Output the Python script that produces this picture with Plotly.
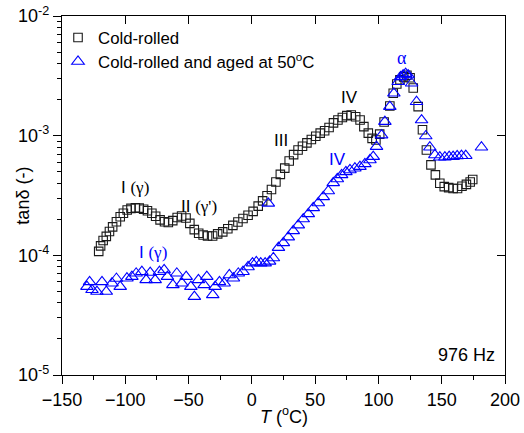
import plotly.graph_objects as go

# Cold-rolled sample: internal friction vs temperature
cr_T = [-121, -119.5, -117.5, -115, -112.5, -110, -107, -104, -101.5, -98.5,
        -95.5, -92, -89, -85.5, -82.5, -79, -76, -72.5, -69, -66,
        -62.5, -59, -55.5, -52, -49, -45.5, -42, -38.5, -35, -31,
        -27, -23, -19, -15, -11, -7, -3, 1, 5, 8.5,
        12, 15.5, 19, 22.5, 26, 29.5, 33, 36.5, 40, 43.5,
        47, 50.5, 54, 57.5, 61, 64.5, 68, 71.5, 75, 78.5,
        82, 85.5, 88.5, 92, 95, 98, 101, 104.5, 109, 111.7,
        114.5, 117, 120, 122.5, 125, 127.5, 131.4, 134.8, 137.9, 141.5,
        145, 148.5, 152, 155.5, 159, 162.5, 166, 169.5, 172.5, 174.5]
cr_tan = [1.08e-4, 1.2e-4, 1.33e-4, 1.44e-4, 1.58e-4, 1.73e-4, 1.91e-4, 2.1e-4, 2.25e-4, 2.39e-4,
          2.47e-4, 2.5e-4, 2.48e-4, 2.43e-4, 2.36e-4, 2.25e-4, 2.12e-4, 1.98e-4, 1.91e-4, 1.88e-4,
          1.95e-4, 2.07e-4, 2.13e-4, 2.05e-4, 1.85e-4, 1.64e-4, 1.53e-4, 1.48e-4, 1.45e-4, 1.45e-4,
          1.51e-4, 1.57e-4, 1.67e-4, 1.78e-4, 1.9e-4, 2.03e-4, 2.16e-4, 2.33e-4, 2.58e-4, 2.85e-4,
          3.15e-4, 3.55e-4, 4.1e-4, 4.75e-4, 5.35e-4, 6.15e-4, 6.95e-4, 7.6e-4, 8.15e-4, 8.7e-4,
          9.3e-4, 9.9e-4, 1.05e-3, 1.1e-3, 1.17e-3, 1.28e-3, 1.35e-3, 1.42e-3, 1.47e-3, 1.49e-3,
          1.44e-3, 1.35e-3, 1.19e-3, 1.05e-3, 9.5e-4, 9.2e-4, 1.03e-3, 1.3e-3, 1.77e-3, 2.26e-3,
          2.7e-3, 2.93e-3, 3.1e-3, 3.2e-3, 3.05e-3, 2.5e-3, 1.75e-3, 1.12e-3, 7.6e-4, 5.7e-4,
          4.7e-4, 4.0e-4, 3.75e-4, 3.68e-4, 3.62e-4, 3.62e-4, 3.78e-4, 3.92e-4, 4.1e-4, 4.3e-4]

# Cold-rolled and aged at 50 °C
ag_T = [-130.3, -128.2, -126.3, -122.4, -118.4, -115, -110.5, -107, -104, -98.7,
        -94.8, -91.4, -86.9, -83.5, -80.3, -76.4, -73, -69.3, -66.7, -62.4,
        -59.3, -55.3, -51.9, -48.2, -45.4, -42.2, -37.7, -35.6, -30.9, -29,
        -25.6, -21.9, -17.8, -14.6, -10.7, -7, -3, 0.5, 3.5, 7,
        10.5, 13, 14, 17, 21, 24.9, 28.8, 32.7, 36.7, 40.6,
        44.6, 48.5, 52.5, 56.4, 60.4, 64.3, 67.5, 70.9, 74.3, 77.5,
        81.4, 85.4, 89.3, 93.3, 95.9, 98.5, 102.5, 105.1, 109, 112.2,
        115.6, 117.5, 119.5, 121.5, 123.5, 126.2, 130.1, 134.1, 137.4, 140.6,
        144.6, 148.5, 152.5, 155.9, 159, 162.2, 165.6, 169, 181.4]
ag_tan = [5.48e-5, 6.0e-5, 5.15e-5, 4.98e-5, 6.0e-5, 4.98e-5, 5.85e-5, 6.4e-5, 5.48e-5, 6.44e-5,
          6.64e-5, 7.08e-5, 7.3e-5, 6.24e-5, 7.18e-5, 6.24e-5, 7.3e-5, 7.55e-5, 6.64e-5, 5.66e-5,
          7.08e-5, 5.85e-5, 6.64e-5, 5.48e-5, 4.52e-5, 6.24e-5, 5.66e-5, 6.64e-5, 4.67e-5, 5.48e-5,
          6.0e-5, 5.85e-5, 6.85e-5, 6.44e-5, 7.08e-5, 7.3e-5, 8.0e-5, 8.6e-5, 8.8e-5, 8.6e-5,
          8.6e-5, 2.72e-4, 8.9e-5, 9.5e-5, 1.16e-4, 1.27e-4, 1.42e-4, 1.6e-4, 1.79e-4, 2.01e-4,
          2.22e-4, 2.49e-4, 2.74e-4, 3.08e-4, 3.45e-4, 4.03e-4, 4.35e-4, 4.7e-4, 4.98e-4, 5.17e-4,
          5.34e-4, 5.51e-4, 5.81e-4, 6.27e-4, 6.68e-4, 8.1e-4, 1.01e-3, 1.31e-3, 1.75e-3, 2.26e-3,
          2.82e-3, 3.1e-3, 3.21e-3, 3.3e-3, 3.21e-3, 2.74e-3, 1.92e-3, 1.35e-3, 9.93e-4, 8.0e-4,
          6.9e-4, 6.6e-4, 6.6e-4, 6.68e-4, 6.68e-4, 6.76e-4, 6.8e-4, 6.8e-4, 8.0e-4]

x_ticks = [-150, -100, -50, 0, 50, 100, 150, 200]
x_minor = [-125, -75, -25, 25, 75, 125, 175]
y_ticks = [1e-5, 1e-4, 1e-3, 1e-2]
y_ticktext = ["10<sup>-5</sup>", "10<sup>-4</sup>", "10<sup>-3</sup>", "10<sup>-2</sup>"]
y_minor = [m * 10.0 ** e for e in (-5, -4, -3) for m in range(2, 10)]

SANS = "Arial, Liberation Sans, sans-serif"
SERIF = "Times New Roman, Liberation Serif, serif"
BLUE = "#0000ff"
BLACK = "#1a1a1a"

fig = go.Figure()
fig.add_trace(go.Scatter(
    x=cr_T, y=cr_tan, mode="markers", name="Cold-rolled", showlegend=True,
    marker=dict(symbol="square-open", size=8.5, color=BLACK, line=dict(width=1.1)),
    legend="legend"))
fig.add_trace(go.Scatter(
    x=ag_T, y=ag_tan, mode="markers", name="Cold-rolled and aged at 50<sup>o</sup>C",
    showlegend=True,
    marker=dict(symbol="triangle-up-open", size=11, color=BLUE, line=dict(width=1.1)),
    legend="legend2"))

axis_line = dict(showline=True, linecolor="black", linewidth=1.3, showgrid=False,
                 zeroline=False, automargin=False)

fig.update_layout(
    width=524, height=433, autosize=False, showlegend=True,
    margin=dict(l=62, r=19, t=16, b=58, autoexpand=False),
    plot_bgcolor="white", paper_bgcolor="white",
    font=dict(family=SANS, size=18, color="black"),
    xaxis=dict(
        range=[-150, 200], tickmode="array", tickvals=x_ticks,
        ticks="outside", ticklen=8, tickwidth=1.3, tickcolor="black",
        minor=dict(tickmode="array", tickvals=x_minor, ticks="outside", ticklen=4,
                   tickwidth=1.3, tickcolor="black"),
        mirror=True, tickfont=dict(size=18), title=None,
        **axis_line),
    xaxis2=dict(
        range=[-150, 200], overlaying="x", side="top", anchor="y",
        tickmode="array", tickvals=x_ticks[1:-1], ticks="inside", ticklen=8,
        tickwidth=1.3, tickcolor="black", showticklabels=False,
        showline=False, showgrid=False, zeroline=False, automargin=False),
    yaxis=dict(
        type="log", range=[-5, -2], tickmode="array", tickvals=y_ticks,
        ticktext=y_ticktext, ticks="outside", ticklen=8, tickwidth=1.3,
        tickcolor="black",
        minor=dict(tickmode="array", tickvals=y_minor, ticks="outside", ticklen=4,
                   tickwidth=1.3, tickcolor="black"),
        mirror=True, tickfont=dict(size=18), title=None,
        **axis_line),
    yaxis2=dict(
        type="log", range=[-5, -2], overlaying="y", side="right", anchor="x",
        tickmode="array", tickvals=y_ticks[1:-1], ticks="inside", ticklen=8,
        tickwidth=1.3, tickcolor="black", showticklabels=False,
        showline=False, showgrid=False, zeroline=False, automargin=False),
    legend=dict(x=-0.009, y=0.94, xanchor="left", yanchor="middle",
                bgcolor="rgba(0,0,0,0)", font=dict(size=16.8, family=SANS)),
    legend2=dict(x=-0.009, y=0.873, xanchor="left", yanchor="middle",
                 bgcolor="rgba(0,0,0,0)", font=dict(size=16.8, family=SANS)),
)

# empty traces so the mirrored tick axes are drawn
fig.add_trace(go.Scatter(x=[], y=[], xaxis="x2", yaxis="y2", showlegend=False))

def label(x, y, text, color, size=17):
    fig.add_annotation(x=x, y=y, xref="x", yref="y", text=text, showarrow=False,
                       font=dict(size=size, color=color, family=SANS))

serif = lambda s: f"<span style='font-family:{SERIF}'>{s}</span>"
label(-92.2, -3.437, "I " + serif("(γ)"), "black")
label(-41.7, -3.596, "II " + serif("(γ')"), "black")
label(-78.3, -3.976, "I " + serif("(γ)"), BLUE)
label(23, -3.044, "III", "black")
label(77.5, -2.685, "IV", "black")
label(68, -3.203, "IV", BLUE)
label(118.9, -2.35, serif("α"), BLUE, size=18)

fig.add_annotation(x=0.982, y=0.0557, xref="paper", yref="paper", text="976 Hz",
                   xanchor="right", yanchor="middle", showarrow=False,
                   font=dict(size=18, color="black"))
# axis titles
fig.add_annotation(x=0.5, y=-0.112, xref="paper", yref="paper",
                   text="<i>T</i> (<sup>o</sup>C)", showarrow=False,
                   xanchor="center", yanchor="middle", font=dict(size=18, color="black"))
fig.add_annotation(x=-0.09, y=0.5, xref="paper", yref="paper", text="tanδ (-)",
                   textangle=-90, showarrow=False, xanchor="center", yanchor="middle",
                   font=dict(size=18, color="black"))

fig.write_html("out.html")
